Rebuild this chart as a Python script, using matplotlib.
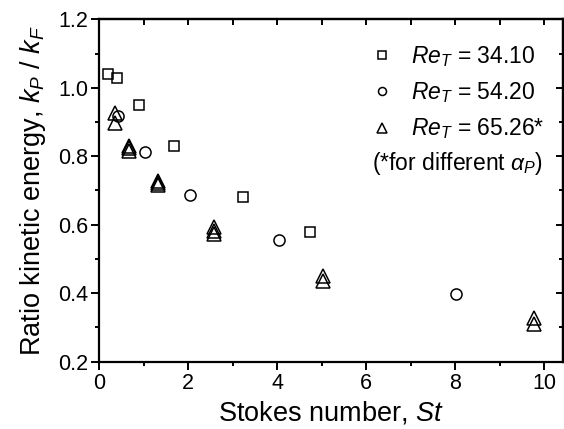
import matplotlib
matplotlib.use('Agg')
import matplotlib.pyplot as plt
from matplotlib.ticker import MultipleLocator

plt.rcParams['font.family'] = 'Liberation Sans'
plt.rcParams['mathtext.fontset'] = 'custom'
plt.rcParams['mathtext.rm'] = 'Liberation Sans'
plt.rcParams['mathtext.it'] = 'Liberation Sans:italic'

# Re_T = 34.10
st_a = [0.2, 0.39, 0.89, 1.69, 3.23, 4.73]
k_a = [1.04, 1.03, 0.95, 0.83, 0.68, 0.58]
# Re_T = 54.20
st_b = [0.43, 1.03, 2.03, 4.03, 8.01]
k_b = [0.918, 0.812, 0.688, 0.555, 0.397]
# Re_T = 65.26 (different alpha_P)
st_c = [0.35, 0.35, 0.67, 0.67, 0.67, 1.31, 1.31, 1.31, 2.57, 2.57, 2.57, 5.02, 5.02, 9.78, 9.78]
k_c = [0.925, 0.897, 0.830, 0.824, 0.815, 0.728, 0.722, 0.716, 0.593, 0.582, 0.572, 0.449, 0.435, 0.327, 0.311]

labels = ['$Re_T$ = 34.10', '$Re_T$ = 54.20', '$Re_T$ = 65.26*']

fig = plt.figure(figsize=(5.64, 4.29), dpi=100)
ax = fig.add_axes([0.176, 0.157, 0.822, 0.798])

mk = dict(linestyle='none', markerfacecolor='none', markeredgecolor='black', markeredgewidth=1.1)
ax.plot(st_a, k_a, marker='s', markersize=7.5, label=labels[0], **mk)
ax.plot(st_b, k_b, marker='o', markersize=8, label=labels[1], **mk)
ax.plot(st_c, k_c, marker='^', markersize=9.5, label=labels[2], **mk)

ax.set_xlim(0, 10.42)
ax.set_ylim(0.2, 1.2)
ax.xaxis.set_major_locator(MultipleLocator(2))
ax.xaxis.set_minor_locator(MultipleLocator(1))
ax.yaxis.set_major_locator(MultipleLocator(0.2))
ax.yaxis.set_minor_locator(MultipleLocator(0.1))
ax.yaxis.set_major_formatter(plt.FormatStrFormatter('%.1f'))

for s in ax.spines.values():
    s.set_linewidth(1.6)

ax.tick_params(which='both', direction='out', top=False, right=False, width=1.4, labelsize=15.5)
ax.tick_params(which='major', length=6, pad=2)
ax.tick_params(which='minor', length=3.2)

# top and right axes with inward ticks
ax_t = ax.secondary_xaxis('top')
ax_t.xaxis.set_major_locator(MultipleLocator(1))
ax_t.tick_params(direction='in', length=4.5, width=1.4, labeltop=False)
ax_t.spines['top'].set_linewidth(1.6)
ax_r = ax.secondary_yaxis('right')
ax_r.yaxis.set_major_locator(MultipleLocator(0.2))
ax_r.yaxis.set_minor_locator(MultipleLocator(0.1))
ax_r.tick_params(which='major', direction='in', length=5, width=1.4, labelright=False)
ax_r.tick_params(which='minor', direction='in', length=3.2, width=1.4)
ax_r.spines['right'].set_linewidth(1.6)

ax.set_xlabel('Stokes number, $St$', fontsize=19.5, labelpad=4)
ax.set_ylabel('Ratio kinetic energy, $k_P$ / $k_F$', fontsize=19.5, labelpad=7.5)

leg = ax.legend(loc='upper right', bbox_to_anchor=(0.98, 0.955), frameon=False, fontsize=16.5,
                markerscale=0.72, handlelength=1.0, handletextpad=0.75, labelspacing=0.5, borderaxespad=0)
ax.text(0.957, 0.58, '(*for different $\\alpha_P$)', transform=ax.transAxes, ha='right', va='center', fontsize=16.5)

fig.savefig('out.png', dpi=100)
